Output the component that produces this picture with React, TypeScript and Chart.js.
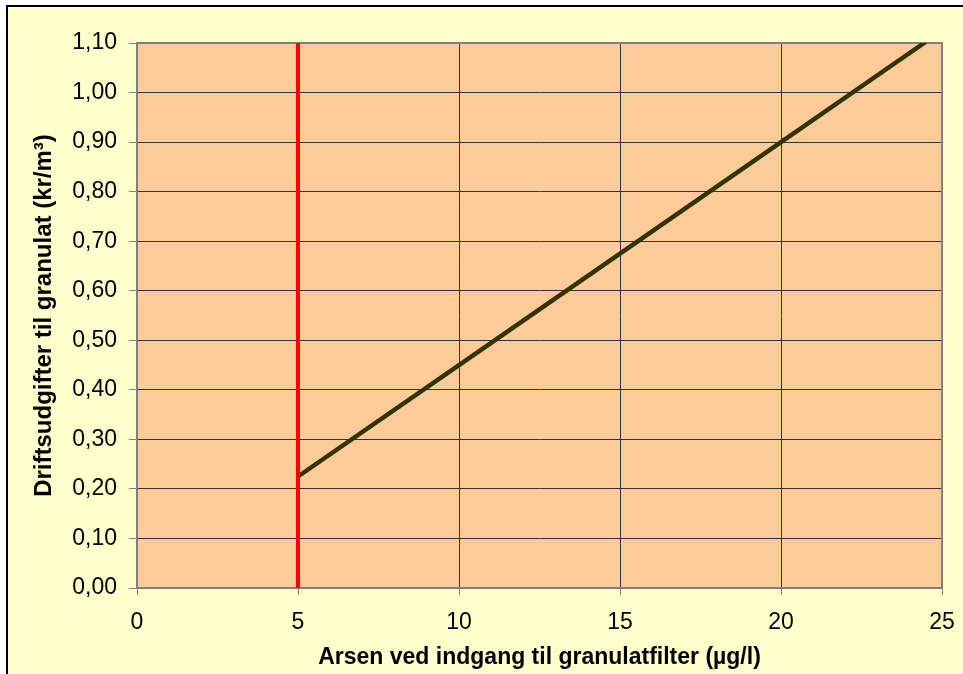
import React, { useEffect, useRef } from "react";
import { Chart, registerables } from "chart.js";

Chart.register(...registerables);

// Data
const arsenValues = [5, 10, 15, 20, 24.5];
const costValues = [0.225, 0.45, 0.675, 0.9, 1.1025];
const limitX = [5, 5];
const limitY = [0, 1.1];
const xTickLabels = ["0", "5", "10", "15", "20", "25"];
const xTitle = "Arsen ved indgang til granulatfilter (µg/l)";
const yTitle = "Driftsudgifter til granulat (kr/m³)";

const FONT = "'Liberation Sans', Arial, sans-serif";

const plotBg = {
  id: "plotBg",
  beforeDraw(chart: any) {
    const { ctx, chartArea: a } = chart;
    ctx.save();
    ctx.fillStyle = "#FFCC99";
    ctx.fillRect(a.left, a.top, a.right - a.left, a.bottom - a.top);
    ctx.restore();
  },
  beforeDatasetsDraw(chart: any) {
    const { ctx, chartArea: a } = chart;
    ctx.save();
    ctx.strokeStyle = "#808080";
    ctx.lineWidth = 2;
    ctx.strokeRect(a.left, a.top, a.right - a.left, a.bottom - a.top);
    ctx.restore();
  },
};

export default function App() {
  const ref = useRef<HTMLCanvasElement>(null);

  useEffect(() => {
    if (!ref.current) return;
    const chart = new Chart(ref.current, {
      type: "line",
      data: {
        datasets: [
          {
            label: "Grænse",
            data: limitX.map((x, i) => ({ x, y: limitY[i] })),
            borderColor: "#FF0000",
            borderWidth: 4,
            pointRadius: 0,
            fill: false,
          },
          {
            label: "Driftsudgifter",
            data: arsenValues.map((x, i) => ({ x, y: costValues[i] })),
            borderColor: "#333300",
            borderWidth: 4.5,
            pointRadius: 0,
            fill: false,
          },
        ],
      },
      options: {
        animation: false,
        responsive: false,
        maintainAspectRatio: false,
        layout: { padding: { left: 0, top: 43, right: 21, bottom: 0 } },
        plugins: {
          legend: { display: false },
          tooltip: { enabled: false },
        },
        scales: {
          x: {
            type: "linear",
            min: 0,
            max: 25,
            afterFit: (s: any) => {
              s.height = 86;
              s.paddingLeft = 0;
              s.paddingRight = 0;
            },
            ticks: {
              stepSize: 5,
              padding: 14,
              color: "#000",
              font: { family: FONT, size: 23 },
              callback: (v: any) => xTickLabels[Math.round(Number(v) / 5)] ?? String(v),
              maxRotation: 0,
            },
            grid: {
              color: "#333333",
              lineWidth: 1,
              tickLength: 7,
              tickColor: "#808080",
            },
            border: { display: false },
            title: {
              display: true,
              text: xTitle,
              color: "#000",
              font: { family: FONT, size: 23, weight: "bold" },
              padding: { top: 0, bottom: 3 },
            },
          },
          y: {
            type: "linear",
            min: 0,
            max: 1.1,
            afterFit: (s: any) => {
              s.width = 137;
              s.paddingTop = 0;
              s.paddingBottom = 0;
            },
            ticks: {
              stepSize: 0.1,
              padding: 12,
              color: "#000",
              font: { family: FONT, size: 23 },
              callback: (v: any) => Number(v).toFixed(2).replace(".", ","),
            },
            grid: {
              color: "#333333",
              lineWidth: 1,
              tickLength: 8,
              tickColor: "#808080",
            },
            border: { display: false },
            title: {
              display: true,
              text: yTitle,
              color: "#000",
              font: { family: FONT, size: 24, weight: "bold" },
              padding: { top: 30, bottom: 0 },
            },
          },
        },
      },
      plugins: [plotBg],
    } as any);
    return () => chart.destroy();
  }, []);

  return (
    <div
      style={{
        position: "absolute",
        left: 0,
        top: 0,
        width: 963,
        height: 674,
        overflow: "hidden",
        background: "#FFFFFF",
      }}
    >
      <div
        style={{
          position: "absolute",
          left: 6,
          top: 5,
          width: 1000,
          height: 1000,
          border: "2px solid #000",
          background: "#FFFFCC",
        }}
      />
      <canvas
        ref={ref}
        width={963}
        height={674}
        style={{ position: "absolute", left: 0, top: 0, width: 963, height: 674 }}
      />
    </div>
  );
}
